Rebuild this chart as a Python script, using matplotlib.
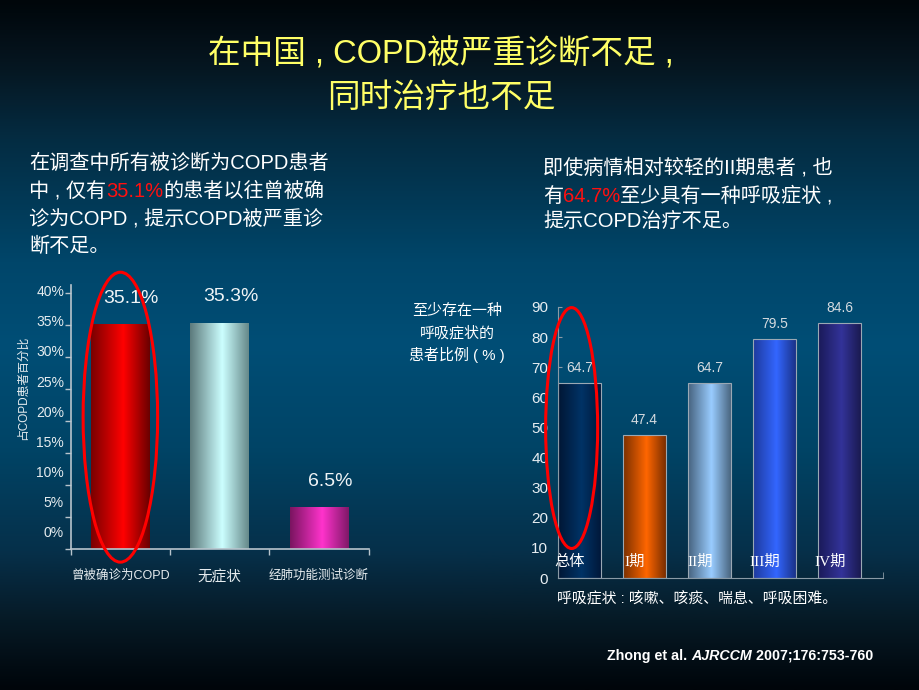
import numpy as np
import matplotlib.pyplot as plt
from matplotlib.colors import LinearSegmentedColormap
from matplotlib.patches import Ellipse
from matplotlib import font_manager

plt.rcParams['font.family'] = ['Liberation Sans', 'Noto Sans CJK SC']

# ---- data ----
diag_labels = ['曾被确诊为COPD', '无症状', '经肺功能测试诊断']
diag_values = [35.1, 35.3, 6.5]
diag_label_sizes = [9, 10.5, 9]
diag_colors = [('#7a0000', '#ff0000', '#6a0000'),
               ('#5c7a7c', '#ccffff', '#66898a'),
               ('#7a1460', '#ff33cc', '#801868')]
pct_ticks = [0, 5, 10, 15, 20, 25, 30, 35, 40]

stage_labels = ['总体', 'I期', 'II期', 'III期', 'IV期']
stage_values = [64.7, 47.4, 64.7, 79.5, 84.6]
stage_colors = [('#001634', '#003366', '#00183a'),
                ('#7a3000', '#ff6600', '#7a2e00'),
                ('#46627e', '#99ccff', '#4a6680'),
                ('#1e3a9c', '#3366ff', '#1a3288'),
                ('#1a1a58', '#333399', '#1a1a50')]
stage_ticks = [0, 10, 20, 30, 40, 50, 60, 70, 80, 90]

names = {f.name for f in font_manager.fontManager.ttflist}
narrow = 'Liberation Sans Narrow' if 'Liberation Sans Narrow' in names else 'Liberation Sans'
serif = ['Liberation Serif', 'Noto Sans CJK SC']

fig = plt.figure(figsize=(9.2, 6.9), dpi=100)

# background gradient, also used as a pixel-coordinate canvas for text
bg = fig.add_axes([0, 0, 1, 1])
bg_cmap = LinearSegmentedColormap.from_list('bg', [
    (0.0, '#00060a'), (0.1, '#061722'), (0.2, '#042c42'), (0.38, '#00466a'),
    (0.5, '#004e76'), (0.65, '#004466'), (0.8, '#06304a'), (0.9, '#061a26'),
    (1.0, '#00050a')])
bg.imshow(np.linspace(0, 1, 256).reshape(-1, 1), extent=[0, 920, 690, 0],
          aspect='auto', cmap=bg_cmap)
bg.set_xlim(0, 920)
bg.set_ylim(690, 0)
bg.axis('off')


def rich(x, y, parts, **kw):
    t = bg.text(x, y, parts[0][0], va='baseline', **{**kw, **parts[0][1]})
    for s, props in parts[1:]:
        t = bg.annotate(s, xy=(1, 0), xycoords=t, va='bottom', **{**kw, **props})


def cylinder(ax, bars, color_sets):
    for b, (e1, mid, e2) in zip(bars, color_sets):
        cm = LinearSegmentedColormap.from_list('', [(0, e1), (0.55, mid), (1, e2)])
        x0, w, h = b.get_x(), b.get_width(), b.get_height()
        im = ax.imshow(np.linspace(0, 1, 128).reshape(1, -1), cmap=cm,
                       extent=[x0, x0 + w, 0, h], aspect='auto', zorder=1.9)
        im.set_clip_path(b)
        b.set_facecolor('none')


# title
yellow = '#ffff66'
bg.text(441, 64, '在中国 , COPD被严重诊断不足 ,', ha='center', va='baseline',
        fontsize=23.5, color=yellow)
bg.text(441, 107, '同时治疗也不足', ha='center', va='baseline',
        fontsize=23.5, color=yellow)

# left text block
W = {'color': 'white'}
R = {'color': '#ff1010'}
rich(29, 169, [('在调查中所有被诊断为COPD患者', W)], fontsize=14.5)
rich(29, 197, [('中 , 仅有', W), ('35.1%', R), ('的患者以往曾被确', W)], fontsize=14.5)
rich(29, 225, [('诊为COPD , 提示COPD被严重诊', W)], fontsize=14.5)
rich(29, 252, [('断不足。', W)], fontsize=14.5)

# right text block
rich(543, 174, [('即使病情相对较轻的II期患者 , 也', W)], fontsize=14.5)
rich(543, 202, [('有', W), ('64.7%', R), ('至少具有一种呼吸症状 ,', W)], fontsize=14.5)
rich(543, 228, [('提示COPD治疗不足。', W)], fontsize=14.5)

# footer
rich(607, 660, [('Zhong et al. ', {'fontweight': 'bold'}),
                ('AJRCCM', {'fontweight': 'bold', 'fontstyle': 'italic'}),
                (' 2007;176:753-760', {'fontweight': 'bold'})],
     fontsize=10.3, color='white')

# ---- left chart ----
axis_col = '#b8c4cc'
ax1 = fig.add_axes([70.7 / 920, 1 - 549 / 690, 298 / 920, 264 / 690])
ax1.set_facecolor('none')
bars1 = ax1.bar(range(len(diag_values)), diag_values, width=0.59, zorder=2)
cylinder(ax1, bars1, diag_colors)
ax1.set_xlim(-0.5, 2.5)
ax1.set_ylim(0, 41.25)
for s in ['top', 'right']:
    ax1.spines[s].set_visible(False)
for s in ['left', 'bottom']:
    ax1.spines[s].set_color(axis_col)
    ax1.spines[s].set_linewidth(1.2)
ax1.set_yticks(pct_ticks, minor=True)
ax1.set_yticks([2.66 + 0.943 * t for t in pct_ticks], [f'{t}%' for t in pct_ticks])
ax1.tick_params(axis='y', which='minor', direction='out', length=4, width=1, color=axis_col)
ax1.tick_params(axis='y', which='major', length=0, pad=4.8, labelsize=10, labelcolor='#e6ecef')
ax1.set_xticks(np.arange(len(diag_values) + 1) - 0.5, minor=True)
ax1.set_xticks(range(len(diag_values)), diag_labels)
ax1.tick_params(axis='x', which='minor', direction='out', length=4, width=1, color=axis_col)
ax1.tick_params(axis='x', which='major', length=0, pad=15, labelcolor='#e6ecef')
for lbl, sz in zip(ax1.get_xticklabels(), diag_label_sizes):
    lbl.set_fontsize(sz)
for i, v in enumerate(diag_values):
    ax1.text(i + 0.11, v + 4.1, f'{v}%', ha='center', va='center',
             fontsize=14, color='#f0f4f6', zorder=4)
ax1.add_patch(Ellipse((0, 20.6), 0.75, 45.3, fill=False, ec='#ff0000', lw=2.2,
                      clip_on=False, zorder=5))
bg.text(23, 388, '占COPD患者百分比', rotation=90, ha='center', va='center',
        fontsize=8.5, color='#e6ecef')

# ---- right chart ----
axis_col2 = '#8a9aa6'
ax2 = fig.add_axes([558 / 920, 1 - 578 / 690, 325 / 920, 271 / 690])
ax2.set_facecolor('none')
bars2 = ax2.bar(range(len(stage_values)), stage_values, width=0.66,
                edgecolor='#9aa8b4', linewidth=0.8, zorder=2)
cylinder(ax2, bars2, stage_colors)
ax2.set_xlim(-0.33, 4.67)
ax2.set_ylim(0, 90)
for s in ['top', 'right']:
    ax2.spines[s].set_visible(False)
for s in ['left', 'bottom']:
    ax2.spines[s].set_color(axis_col2)
ax2.set_yticks(stage_ticks)
ax2.tick_params(axis='y', direction='in', length=3, color=axis_col2, pad=7,
                labelsize=11, labelcolor='#e8eef2')
for lbl in ax2.get_yticklabels():
    lbl.set_family([narrow, 'Liberation Sans'])
ax2.set_xticks([])
ax2.set_xticks(np.arange(len(stage_values) + 1) - 0.33, minor=True)
ax2.tick_params(axis='x', which='minor', direction='in', length=4, color=axis_col2)
for i, v in enumerate(stage_values):
    ax2.text(i, v + 5, f'{v:.1f}', ha='center', va='center', fontsize=10,
             color='#d4dadf', family=[narrow, 'Liberation Sans'], zorder=4)
    ax2.text(i - 0.15, 5.3, stage_labels[i], ha='center', va='center',
             fontsize=11, color='white', family=serif, zorder=4)
ax2.add_patch(Ellipse((-0.12, 49.8), 0.8, 80, fill=False, ec='#ff0000', lw=2.2,
                      clip_on=False, zorder=5))

for k, line in enumerate(['至少存在一种', '呼吸症状的', '患者比例 ( % )']):
    bg.text(457, 311 + 22 * k, line, ha='center', va='center', fontsize=10.8,
            color='white')
bg.text(557, 598, '呼吸症状 : 咳嗽、咳痰、喘息、呼吸困难。', ha='left', va='center',
        fontsize=10.7, color='white')

fig.savefig('out.png', dpi=100)
